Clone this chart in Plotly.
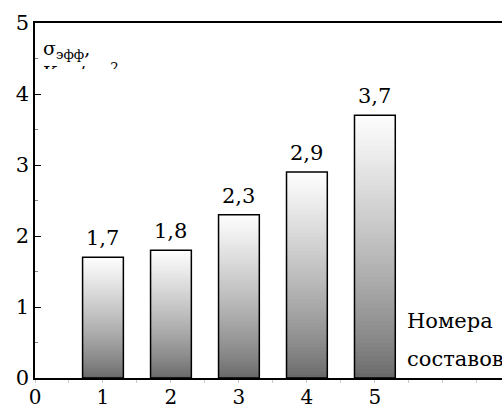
import plotly.graph_objects as go

# Номера составов и эффективное напряжение σэфф, кгс/см²
compositions = [1, 2, 3, 4, 5]
sigma_eff = [1.7, 1.8, 2.3, 2.9, 3.7]
x_ticks = [0, 1, 2, 3, 4, 5]
y_ticks = [0, 1, 2, 3, 4, 5]

FONT = "DejaVu Serif"
BAR_W = 0.6
N_BANDS = 60

fig = go.Figure()

# Gradient fill: overlapping bands from the bar base to its top,
# dark gray at the bottom fading to white at the top.
for k in range(N_BANDS):
    t = k / N_BANDS
    g = int(round(105 + (255 - 105) * t ** 0.8))
    fig.add_trace(go.Bar(
        x=compositions,
        y=[v * (1 - t) for v in sigma_eff],
        base=[v * t for v in sigma_eff],
        width=BAR_W,
        marker=dict(color=f"rgb({g},{g},{g})", line=dict(width=0)),
        hoverinfo="skip",
        showlegend=False,
    ))

# Bar outlines
fig.add_trace(go.Bar(
    x=compositions,
    y=sigma_eff,
    width=BAR_W,
    marker=dict(color="rgba(0,0,0,0)", line=dict(color="black", width=1.5)),
    showlegend=False,
))

# Value labels above the bars
for xc, v in zip(compositions, sigma_eff):
    fig.add_annotation(
        x=xc, y=v, xref="x", yref="y",
        text=f"{v:.1f}".replace(".", ","),
        showarrow=False, yanchor="bottom", yshift=5,
        font=dict(family=FONT, size=21, color="black"),
    )

# Y axis title inside the plot (second line cut by the box height)
fig.add_annotation(
    x=0.012, y=0.966, xref="paper", yref="paper",
    xanchor="left", yanchor="top",
    text="σ<sub>эфф</sub>,<br>Кгс/см<sup>2</sup>",
    showarrow=False, align="left", valign="top",
    height=32,
    font=dict(family=FONT, size=19, color="black"),
)

# X axis title, two lines
fig.add_annotation(
    x=5.44, y=0.80, xref="x", yref="y", xanchor="left", yanchor="middle",
    text="Номера", showarrow=False,
    font=dict(family=FONT, size=21, color="black"),
)
fig.add_annotation(
    x=5.44, y=0.27, xref="x", yref="y", xanchor="left", yanchor="middle",
    text="составов", showarrow=False,
    font=dict(family=FONT, size=21, color="black"),
)

fig.update_layout(
    width=502, height=409,
    margin=dict(l=35, r=0, t=23, b=31),
    paper_bgcolor="white", plot_bgcolor="white",
    barmode="overlay",
    font=dict(family=FONT, size=21, color="black"),
    xaxis=dict(
        range=[0, 6.87],
        tickvals=x_ticks, ticktext=[str(v) for v in x_ticks],
        showgrid=False, zeroline=False,
        showline=True, linecolor="black", linewidth=1.5, mirror=True,
        ticks="",
        minor=dict(dtick=0.5, ticks="outside", ticklen=3, tickcolor="#c8c8c8"),
        tickfont=dict(family=FONT, size=20),
        automargin=False,
    ),
    yaxis=dict(
        range=[0, 5],
        tickvals=y_ticks,
        showgrid=False, zeroline=False,
        showline=True, linecolor="black", linewidth=1.5,
        ticks="inside", ticklen=6, tickcolor="black", tickwidth=1.2,
        minor=dict(dtick=0.5, ticks="inside", ticklen=3, tickcolor="#888"),
        tickfont=dict(family=FONT, size=21),
        automargin=False,
    ),
)

fig.write_html("out.html")
